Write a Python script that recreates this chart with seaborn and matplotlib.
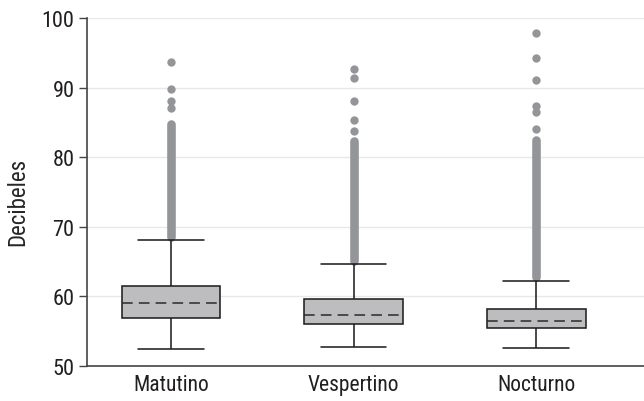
import numpy as np
import pandas as pd
import matplotlib
matplotlib.use("Agg")
import matplotlib.pyplot as plt
import seaborn as sns
from matplotlib import font_manager

# ==========================================================
# DATA
# ==========================================================
periods = ["Matutino", "Vespertino", "Nocturno"]

# five-number summaries: lower whisker, Q1, median, Q3, upper whisker
summ_matutino = [52.4, 56.9, 59.0, 61.5, 68.1]
summ_vespertino = [52.8, 56.1, 57.4, 59.6, 64.6]
summ_nocturno = [52.6, 55.5, 56.5, 58.2, 62.2]

# dense stretch of overlapping outliers (low, high)
dense_low = [68.6, 65.1, 62.8]
dense_high = [84.7, 82.3, 82.5]

# isolated outliers
out_matutino = [87.0, 88.1, 89.8, 93.6]
out_vespertino = [83.7, 85.3, 88.1, 91.3, 92.7]
out_nocturno = [84.0, 86.5, 87.3, 91.1, 94.2, 97.9]

y_ticks = [50, 60, 70, 80, 90, 100]

# ==========================================================
# TABLES
# ==========================================================
box_df = pd.DataFrame({
    "Periodo": np.repeat(periods, 5),
    "dB": summ_matutino + summ_vespertino + summ_nocturno,
})
out_df = pd.DataFrame({
    "Periodo": (["Matutino"] * len(out_matutino)
                + ["Vespertino"] * len(out_vespertino)
                + ["Nocturno"] * len(out_nocturno)),
    "dB": out_matutino + out_vespertino + out_nocturno,
})

# ==========================================================
# STYLE
# ==========================================================
sns.set_style("white")

# look for a condensed sans (the original uses a narrow Helvetica)
fonts = font_manager.fontManager.ttflist
names = {f.name for f in fonts}
fam, stretch, narrow = "Liberation Sans", "normal", False
for cand in ["Liberation Sans Narrow", "Roboto Condensed", "Arial Narrow",
             "Open Sans Condensed", "Noto Sans Condensed"]:
    if cand in names:
        fam, narrow = cand, True
        break
if not narrow:
    for base in ["DejaVu Sans", "Noto Sans", "Open Sans", "Roboto"]:
        if any(f.name == base and f.stretch in ("condensed", "semi-condensed", 87.5, 75)
               for f in fonts):
            fam, stretch, narrow = base, "condensed", True
            break

plt.rcParams["font.family"] = [fam, "DejaVu Sans"]
plt.rcParams["font.stretch"] = stretch

TICK_FS = 16 if narrow else 14.5
XTICK_FS = 15.5 if narrow else 13.5
YLAB_FS = 16.5 if narrow else 13.5

BOX_FILL = "#bcbdc1"
EDGE = "#231f20"
FLIER = "#939598"
GRID = "#e8e8e8"

fig = plt.figure(figsize=(6.44, 4.02), dpi=100)
ax = fig.add_axes([0.135, 0.087, 0.865, 0.866])

sns.boxplot(
    data=box_df, x="Periodo", y="dB", order=periods,
    width=0.54, color=BOX_FILL, linecolor=EDGE, linewidth=1.15,
    showfliers=False, capwidths=0.36,
    medianprops={"linestyle": (0, (7, 4)), "color": "#2a2a2a", "linewidth": 1.1},
    ax=ax, zorder=3,
)

# dense outliers as a thick rounded column
for i, p in enumerate(periods):
    ax.plot([i, i], [dense_low[i], dense_high[i]], color=FLIER,
            linewidth=6.2, solid_capstyle="round", zorder=2)

sns.stripplot(
    data=out_df, x="Periodo", y="dB", order=periods,
    jitter=False, color=FLIER, size=6, linewidth=0, ax=ax, zorder=2,
)

# ----------------------------------------------------------
# Axes
# ----------------------------------------------------------
ax.set_ylim(50, 100)
ax.set_xlim(-0.46, 2.59)
ax.set_yticks(y_ticks)
ax.yaxis.grid(True, color=GRID, linewidth=1.0)
ax.set_axisbelow(True)

ax.set_xlabel("")
ax.set_ylabel("Decibeles", fontsize=YLAB_FS)
ax.yaxis.set_label_coords(-0.104, 0.474)
ax.tick_params(axis="y", which="major", length=6, width=1.0,
               color="#444444", labelsize=TICK_FS, labelcolor="#231f20",
               left=True, pad=3)
ax.tick_params(axis="x", length=0, labelsize=XTICK_FS, labelcolor="#231f20", pad=6)

for s in ["top", "right"]:
    ax.spines[s].set_visible(False)
for s in ["left", "bottom"]:
    ax.spines[s].set_color("#444444")
    ax.spines[s].set_linewidth(1.2)

fig.savefig("out.png", dpi=100)
